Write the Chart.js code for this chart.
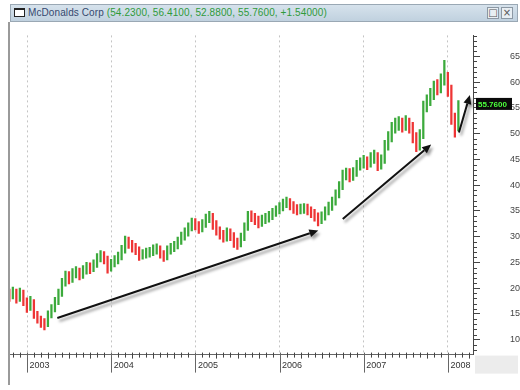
<!DOCTYPE html>
<html>
<head>
<meta charset="utf-8">
<script src="https://cdn.jsdelivr.net/npm/chart.js@4.4.0/dist/chart.umd.min.js"></script>
<style>
  body { margin: 0; background: #fff; }
  #wrap { position: relative; width: 520px; height: 390px; overflow: hidden; }
  canvas { position: absolute; left: 0; top: 0; }
  #bar { position: absolute; left: 10px; top: 4px; width: 508px; height: 18px; box-sizing: border-box;
         background: linear-gradient(#d6e2ec, #c0d1df); border: 1px solid #9aa8b4;
         font: 10px "Liberation Sans Narrow", "Liberation Sans", sans-serif; line-height: 16px; white-space: nowrap; }
  #icon { position: absolute; left: 3px; top: 3px; width: 11px; height: 9px; border: 1px solid #222; border-top-width: 2px; box-sizing: border-box; background: #fff; }
  #name { position: absolute; left: 17px; top: 0; color: #34486e; letter-spacing: 0.1px; }
  #quote { color: #2f9a3a; }
  .btn { position: absolute; top: 2px; width: 12px; height: 12px; box-sizing: border-box; border: 1px solid #8c98a4;
         background: #e8eef3; font: 10px "DejaVu Sans", sans-serif; line-height: 10px; text-align: center; color: #555; }
</style>
</head>
<body>
<div id="wrap">
  <canvas id="myChart" width="520" height="390"></canvas>
  <div id="bar">
    <div id="icon"></div>
    <div id="name">McDonalds Corp <span id="quote"></span></div>
    <div class="btn" style="left:476px">&#9633;</div>
    <div class="btn" style="left:490px">&#215;</div>
  </div>
</div>
<script>
// semi-monthly bars, first one in early October 2002
var startYear = 2002.79;
var step = 1 / 24;
var closes = [18.5,19.2,18.0,19.0,17.4,16.2,17.2,14.8,14.0,13.2,
  12.9,14.8,15.9,17.4,18.9,21.0,22.4,21.8,22.8,23.2,
  22.6,23.5,24.0,23.8,24.6,25.8,26.4,25.6,24.0,24.8,
  25.4,26.1,27.4,29.2,28.6,28.0,27.4,26.3,26.6,26.8,
  27.0,27.4,27.6,26.7,26.1,27.3,27.8,28.2,29.1,30.0,
  30.8,31.8,32.7,32.2,31.6,32.5,33.5,34.0,32.3,31.2,
  30.4,29.8,30.8,30.2,28.8,28.6,29.8,31.8,34.0,33.9,
  33.3,32.7,33.3,33.6,34.0,34.6,35.1,35.7,36.4,36.8,
  36.2,35.4,35.2,35.4,35.5,35.2,34.7,34.0,33.1,33.9,
  34.9,35.8,36.8,38.2,39.8,42.0,42.3,41.8,42.4,43.8,
  44.3,44.6,44.2,45.2,45.6,44.0,44.8,47.6,49.3,51.0,
  51.8,52.0,51.6,52.2,51.4,49.4,47.8,49.6,55.2,56.3,
  57.6,59.0,58.8,60.4,61.0,58.5,53.0,51.0,55.8];
var lows = [17.4,17.9,17.1,17.4,16.6,15.3,15.7,14.1,13.2,12.4,
  11.9,12.5,14.2,15.4,16.8,18.4,20.4,20.8,21.1,22.0,
  21.6,21.9,22.7,22.8,23.2,24.0,25.1,24.7,22.9,23.3,
  24.1,24.7,25.5,26.8,27.7,27.0,26.5,25.4,25.6,25.8,
  26.0,26.3,26.6,25.8,25.2,25.5,26.6,27.1,27.6,28.5,
  29.3,30.1,31.1,31.3,30.6,30.9,31.8,32.7,31.4,30.3,
  29.5,28.9,29.1,29.2,27.9,27.5,28.0,29.2,31.2,32.9,
  32.3,31.7,32.0,32.5,32.8,33.3,33.9,34.4,35.0,35.6,
  35.2,34.5,34.2,34.4,34.5,34.2,33.7,33.0,32.1,32.5,
  33.2,34.2,35.1,36.1,37.5,39.1,41.0,40.6,40.9,41.7,
  42.9,43.3,43.0,43.5,44.2,42.8,43.1,44.2,46.8,48.4,
  50.1,50.6,50.3,50.6,50.1,48.2,46.5,46.8,49.0,54.2,
  55.4,56.6,57.5,57.9,59.4,57.2,51.8,49.3,50.5];
var highs = [19.8,20.2,19.8,20.0,19.6,18.1,18.4,17.8,15.5,14.6,
  14.1,15.6,16.8,18.2,19.8,21.9,23.3,23.2,23.8,24.2,
  23.9,24.4,25.0,24.9,25.5,26.7,27.3,27.1,26.2,25.6,
  26.3,27.0,28.3,30.1,29.9,29.3,28.7,28.0,27.5,27.8,
  27.9,28.4,28.6,28.2,27.3,28.2,28.7,29.1,29.9,30.9,
  31.7,32.7,33.6,33.5,32.9,33.3,34.4,34.9,34.5,33.1,
  31.9,31.2,31.7,31.5,30.8,29.7,30.7,32.7,34.9,35.0,
  34.5,34.0,34.2,34.5,34.9,35.5,36.0,36.6,37.3,37.7,
  37.4,36.8,36.2,36.3,36.4,36.3,35.8,35.3,34.6,34.8,
  35.8,36.7,37.7,39.1,40.7,42.9,43.3,43.2,43.4,44.8,
  45.3,45.8,45.5,46.3,46.8,46.3,45.9,48.7,50.4,52.2,
  53.0,53.3,53.0,53.5,53.0,52.2,50.2,50.8,56.3,57.5,
  58.8,60.2,60.5,61.6,64.2,61.9,59.4,54.0,56.4];
var yTicks = [10, 15, 20, 25, 30, 35, 40, 45, 50, 55, 60, 65];
var years = [2003, 2004, 2005, 2006, 2007, 2008];
var quote = ['54.2300', '56.4100', '52.8800', '55.7600', '+1.54000'];
var lastPrice = 55.76;
// trend arrows as [year, price]
var arrowFrom = [[2003.36, 14.2], [2006.75, 33.4], [2008.13, 50.2]];
var arrowTo = [[2006.46, 31.2], [2007.80, 47.9], [2008.26, 57.5]];

document.getElementById('quote').textContent = '(' + quote.join(', ') + ')';

var green = '#3caa3c';
var red = '#ee3535';
var barData = closes.map(function (c, i) {
  return { x: startYear + i * step, y: [lows[i], highs[i]] };
});
var barColors = closes.map(function (c, i) {
  return (i > 0 && c >= closes[i - 1]) ? green : red;
});

var extras = {
  id: 'extras',
  afterDatasetsDraw(chart) {
    const ctx = chart.ctx, x = chart.scales.x, y = chart.scales.y;
    ctx.save();
    ctx.shadowColor = 'rgba(0,0,0,0.4)';
    ctx.shadowBlur = 3;
    ctx.shadowOffsetX = 2;
    ctx.shadowOffsetY = 3;
    ctx.strokeStyle = '#111';
    ctx.fillStyle = '#111';
    ctx.lineWidth = 2;
    for (let k = 0; k < arrowFrom.length; k++) {
      const x1 = x.getPixelForValue(arrowFrom[k][0]), y1 = y.getPixelForValue(arrowFrom[k][1]);
      const x2 = x.getPixelForValue(arrowTo[k][0]), y2 = y.getPixelForValue(arrowTo[k][1]);
      const ang = Math.atan2(y2 - y1, x2 - x1);
      const hl = 9, hw = 4;
      const bx = x2 - hl * Math.cos(ang), by = y2 - hl * Math.sin(ang);
      ctx.beginPath(); ctx.moveTo(x1, y1); ctx.lineTo(bx, by); ctx.stroke();
      ctx.beginPath();
      ctx.moveTo(x2, y2);
      ctx.lineTo(bx - hw * Math.sin(ang), by + hw * Math.cos(ang));
      ctx.lineTo(bx + hw * Math.sin(ang), by - hw * Math.cos(ang));
      ctx.closePath(); ctx.fill();
    }
    ctx.restore();
  },
  afterDraw(chart) {
    const ctx = chart.ctx, x = chart.scales.x, y = chart.scales.y, a = chart.chartArea;
    ctx.save();
    // left frame line and bottom-right corner box
    ctx.fillStyle = '#9a9a9a';
    ctx.fillRect(8, 22, 2, 363);
    ctx.fillStyle = '#ececec';
    ctx.fillRect(a.right + 2, a.bottom + 1, 43, 18);
    // minor price ticks
    ctx.strokeStyle = '#444';
    ctx.lineWidth = 1;
    for (let v = Math.ceil(y.min); v <= y.max; v++) {
      if (v % 5 === 0) continue;
      const py = Math.round(y.getPixelForValue(v)) + 0.5;
      ctx.beginPath(); ctx.moveTo(a.right, py); ctx.lineTo(a.right + 4, py); ctx.stroke();
    }
    // monthly ticks and year ticks
    for (let yr = 2002; yr <= 2008; yr++) {
      for (let m = 0; m < 12; m++) {
        const t = yr + m / 12;
        if (t < x.min || t > x.max) continue;
        const px = Math.round(x.getPixelForValue(t)) + 0.5;
        ctx.strokeStyle = m === 0 ? '#666' : '#444';
        ctx.beginPath();
        if (m === 0) { ctx.moveTo(px, a.bottom - 2); ctx.lineTo(px, a.bottom + 18); }
        else { ctx.moveTo(px, a.bottom - 2); ctx.lineTo(px, a.bottom + (m % 3 === 0 ? 4 : 3)); }
        ctx.stroke();
      }
    }
    // last price tag
    const ty = y.getPixelForValue(lastPrice);
    ctx.fillStyle = '#0a0a0a';
    ctx.fillRect(a.right + 3, ty - 6, 36, 12);
    ctx.fillStyle = '#4cff3c';
    ctx.font = 'bold 8px "Liberation Sans Narrow", "Liberation Sans", sans-serif';
    ctx.textBaseline = 'middle';
    ctx.textAlign = 'left';
    ctx.fillText(lastPrice.toFixed(4), a.right + 5, ty + 0.5);
    ctx.restore();
  }
};

var ctx1 = document.getElementById('myChart').getContext('2d');
var chart = new Chart(ctx1, {
  type: 'bar',
  data: {
    datasets: [{
      label: 'McDonalds Corp',
      data: barData,
      backgroundColor: barColors,
      barThickness: 1.6,
      borderWidth: 0
    }]
  },
  options: {
    responsive: false,
    animation: false,
    layout: { padding: { left: 9, top: 23, right: 0, bottom: 0 } },
    plugins: { legend: { display: false }, tooltip: { enabled: false } },
    scales: {
      x: {
        type: 'linear',
        offset: false,
        min: 2002.786,
        max: 2008.297,
        afterBuildTicks: function (s) { s.ticks = years.map(function (v) { return { value: v }; }); },
        afterFit: function (s) { s.height = 25; },
        grid: { color: '#c4c4c4', lineWidth: 1, drawTicks: false, offset: false },
        border: { display: true, color: '#666', width: 1, dash: [2, 3] },
        ticks: {
          align: 'start',
          padding: 6,
          maxRotation: 0,
          autoSkip: false,
          color: '#333',
          font: { family: 'Liberation Sans', size: 9 },
          callback: function (v) { return ' ' + v; }
        }
      },
      y: {
        position: 'right',
        min: 7.1,
        max: 69.06,
        afterBuildTicks: function (s) { s.ticks = yTicks.map(function (v) { return { value: v }; }); },
        afterFit: function (s) { s.width = 47; },
        grid: { drawOnChartArea: false, drawTicks: true, tickLength: 7, color: '#444' },
        border: { display: true, color: '#444', width: 1 },
        ticks: {
          padding: 30,
          color: '#444',
          font: { family: 'Liberation Sans', size: 9 }
        }
      }
    }
  },
  plugins: [extras]
});
</script>
</body>
</html>
